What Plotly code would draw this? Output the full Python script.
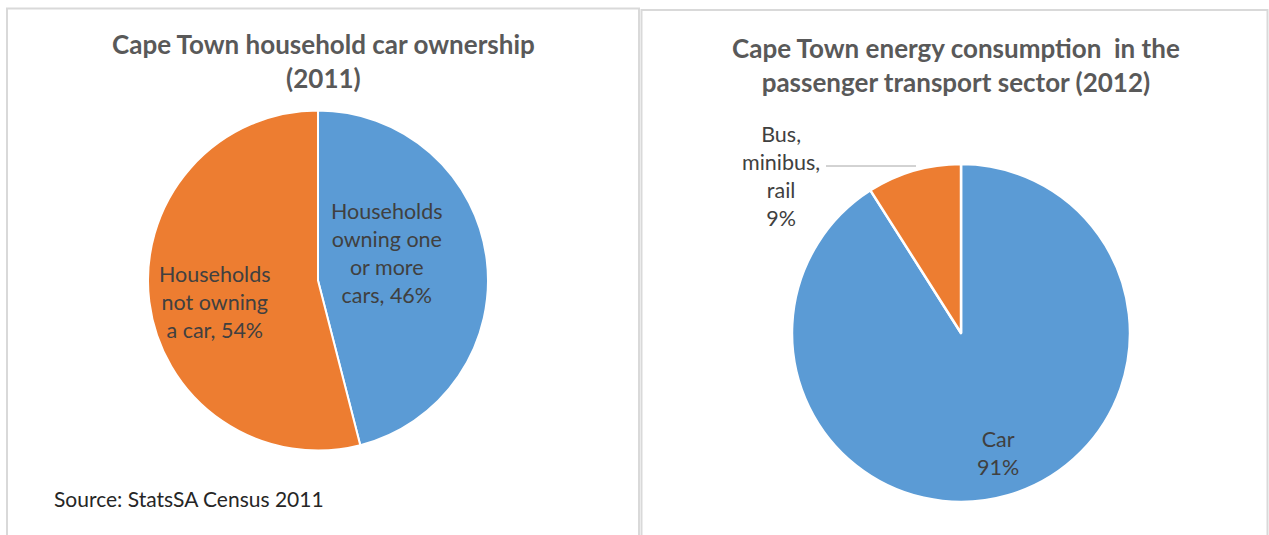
import plotly.graph_objects as go

W, H = 1269, 535

# ---- data ----
ownership_labels = ["Households<br>owning one<br>or more<br>cars", "Households<br>not owning<br>a car"]
ownership_values = [46, 54]
energy_labels = ["Car", "Bus,<br>minibus,<br>rail"]
energy_values = [91, 9]
slice_colors = ["#5B9BD5", "#ED7D31"]
titles = ["Cape Town household car ownership<br>(2011)",
          "Cape Town energy consumption  in the<br>passenger transport sector (2012)"]
source_note = "Source: StatsSA Census 2011"

FONT = "Lato"


def px_x(x):
    return x / W


def px_y(y):
    return 1 - y / H


fig = go.Figure()

fig.add_trace(go.Pie(
    labels=ownership_labels, values=ownership_values, sort=False,
    direction="clockwise", rotation=0,
    marker=dict(colors=slice_colors, line=dict(color="white", width=2)),
    textinfo="none", hoverinfo="label+percent", showlegend=False,
    domain=dict(x=[px_x(148), px_x(488)], y=[px_y(450.5), px_y(110.5)]),
))
fig.add_trace(go.Pie(
    labels=energy_labels, values=energy_values, sort=False,
    direction="clockwise", rotation=0,
    marker=dict(colors=slice_colors, line=dict(color="white", width=2.5)),
    textinfo="none", hoverinfo="label+percent", showlegend=False,
    domain=dict(x=[px_x(792), px_x(1130)], y=[px_y(502), px_y(164)]),
))

ann = []
# titles
ann.append(dict(x=px_x(323), y=px_y(61), text=f"<b>{titles[0]}</b>"))
ann.append(dict(x=px_x(956), y=px_y(64.5), text=f"<b>{titles[1]}</b>"))
for a in ann:
    a.update(xref="paper", yref="paper", showarrow=False, xanchor="center", yanchor="middle",
             font=dict(family=FONT, size=26, color="#595959"))

label_font = dict(family=FONT, size=21.5, color="#404040")
# left pie labels
ann.append(dict(x=px_x(387), y=px_y(252.5),
                text=f"{ownership_labels[0]}, {ownership_values[0]}%"))
ann.append(dict(x=px_x(215), y=px_y(301.5),
                text=f"{ownership_labels[1]}, {ownership_values[1]}%"))
# right pie labels
ann.append(dict(x=px_x(998), y=px_y(453),
                text=f"{energy_labels[0]}<br>{energy_values[0]}%"))
ann.append(dict(x=px_x(781), y=px_y(176),
                text=f"{energy_labels[1]}<br>{energy_values[1]}%"))
for a in ann[2:]:
    a.update(xref="paper", yref="paper", showarrow=False, xanchor="center", yanchor="middle",
             font=label_font)

ann.append(dict(x=px_x(52), y=px_y(498), xref="paper", yref="paper", showarrow=False,
                xanchor="left", yanchor="middle", text=source_note,
                font=dict(family=FONT, size=21, color="#262626")))

shapes = [
    # panel frames
    dict(type="rect", xref="paper", yref="paper",
         x0=px_x(7), x1=px_x(639), y0=px_y(560), y1=px_y(8.5),
         line=dict(color="#D9D9D9", width=2), fillcolor="rgba(0,0,0,0)", layer="below"),
    dict(type="rect", xref="paper", yref="paper",
         x0=px_x(641.5), x1=px_x(1267.5), y0=px_y(560), y1=px_y(10),
         line=dict(color="#D9D9D9", width=2), fillcolor="rgba(0,0,0,0)", layer="below"),
    # leader line for the small slice label
    dict(type="line", xref="paper", yref="paper",
         x0=px_x(826), x1=px_x(916), y0=px_y(166), y1=px_y(166),
         line=dict(color="#A6A6A6", width=1)),
]

fig.update_layout(
    width=W, height=H,
    margin=dict(l=0, r=0, t=0, b=0),
    paper_bgcolor="white", plot_bgcolor="white",
    annotations=ann, shapes=shapes,
    showlegend=False,
)

fig.write_html("out.html")
